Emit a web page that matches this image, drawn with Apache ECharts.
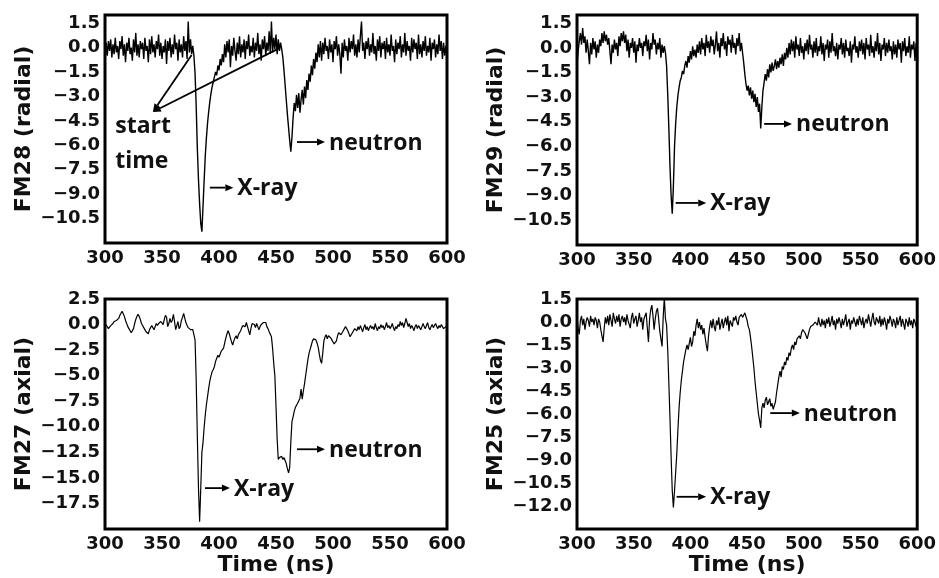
<!DOCTYPE html>
<html>
<head>
<meta charset="utf-8">
<script src="https://cdn.jsdelivr.net/npm/echarts@6/dist/echarts.min.js"></script>
<style>
  html, body { margin: 0; padding: 0; background: #fff; }
  #chart { width: 939px; height: 578px; }
</style>
</head>
<body>
<div id="chart"></div>
<script>
// one sample per ns, starting at 300 ns
const T0 = 300;

const fm28 = [
  -0.8, 0.3, -0.5, 0.4, -0.2, 0.5, -0.6, 0.2, -0.4, 0.6,
  -0.3, 0.1, -0.7, 0.4, -0.1, 0.7, -0.5, 0.2, -0.9, 0.3,
  -0.2, 0.6, -0.4, 0.0, -0.8, 0.5, -0.3, 0.9, -0.5, 0.2,
  -0.6, 0.4, -0.1, 0.3, -0.7, 0.6, -0.2, 0.1, -0.9, 0.5,
  -0.4, 0.7, -0.3, 0.2, -0.6, 0.4, -0.1, 0.8, -0.5, 0.3,
  -0.7, 0.1, -0.3, 0.5, -1.0, 0.4, -0.2, 0.6, -0.6, 0.2,
  -0.4, 0.8, -0.1, 0.3, -0.8, 0.5, -0.3, 0.2, -0.6, 0.7,
  -0.2, 0.4, -0.7, 1.6, -0.3, 0.5, -0.4, 0.1, -0.5, -1.6,
  -3.6, -6.2, -8.1, -9.6, -10.8, -11.3, -9.7, -8.1, -6.6, -5.5,
  -4.6, -3.9, -3.3, -2.8, -2.4, -2.1, -1.8, -1.5, -1.7, -1.1,
  -1.4, -0.7, -1.1, -0.4, -0.9, 0.2, -0.6, 0.4, -0.3, 0.5,
  -1.2, 0.1, -0.5, 0.6, -0.2, -0.8, 0.3, -0.4, 0.7, -0.6,
  0.2, -0.3, 0.5, -0.7, 0.4, -0.1, 0.8, -0.5, 0.1, -0.3,
  0.6, -0.6, 0.3, -0.2, 0.9, -0.4, 0.2, -0.8, 0.5, -0.1,
  0.7, -0.5, 0.3, -0.2, 1.0, -0.4, 1.6, -0.3, 0.6, -0.1,
  0.8, -0.4, 0.5, -0.2, 0.3, -0.1, -0.6, -1.4, -2.3, -3.2,
  -4.1, -4.9, -5.7, -6.4, -5.5, -4.3, -3.4, -3.9, -2.9, -3.7,
  -2.8, -4.0, -3.2, -2.6, -3.5, -2.4, -3.1, -2.0, -2.6, -1.6,
  -2.1, -1.1, -1.7, -0.7, -1.3, -0.3, -0.9, 0.2, -0.6, 0.4,
  -0.8, 0.3, -0.4, 0.6, -0.2, 0.1, -0.7, 0.5, -0.3, 0.2,
  -0.9, 0.4, -0.1, 0.7, -0.5, 0.2, -0.4, -1.6, 0.3, -0.6,
  0.5, -0.2, 0.1, -0.8, 0.6, -0.3, 0.4, -0.1, 0.8, -0.5,
  0.2, -0.6, 0.5, -0.3, 0.7, 1.6, -0.2, 0.3, -0.7, 0.4,
  -0.1, 0.6, -0.5, 0.2, -0.3, 0.9, -0.4, 0.1, -0.8, 0.5,
  -0.2, 0.7, -0.6, 0.3, -0.1, 0.4, -0.7, 0.6, -0.3, 0.2,
  -0.5, 0.8, -0.2, 0.1, -0.9, 0.5, -0.4, 0.3, -0.1, 0.7,
  -0.6, 0.2, -0.3, 0.9, -0.5, 0.4, -0.2, 0.1, -0.8, 0.6,
  -0.3, 0.5, -0.1, 0.3, -0.7, 0.8, -0.4, 0.2, -0.6, 0.4,
  -0.2, 0.7, -0.5, 0.1, -0.3, 0.6, -0.8, 0.3, -0.1, 0.5,
  -0.6, 0.2, -0.4, 0.8, -0.2, 0.4, -0.7, 0.3, -0.5, 0.1,
  -0.6
];

const fm29 = [
  -1.0, -0.2, 0.4, 0.9, 0.2, 1.2, 0.3, 0.7, -0.3, 0.5,
  -0.2, -1.0, 0.3, -0.4, 0.6, -0.1, 0.4, -0.6, 0.2, -0.3,
  0.5, 0.1, 0.9, 0.3, 1.0, 0.4, 0.8, 0.2, 0.6, -0.2,
  -1.0, 0.2, -0.3, 0.5, -0.1, 0.3, -0.5, 0.7, 0.1, 0.9,
  0.4, 1.0, 0.3, 0.8, -0.2, 0.5, -0.6, 0.3, 0.0, 0.6,
  -0.3, 0.4, -0.9, 0.2, -0.2, 0.6, 0.0, 0.3, -0.5, 0.4,
  0.1, 0.8, -0.2, 0.5, -0.7, 0.3, -0.1, 0.9, 0.2, 0.5,
  -0.4, 0.3, -0.1, 0.6, -0.6, 0.2, -0.3, 0.1, -0.3, -1.1,
  -2.8, -4.9, -7.2, -9.0, -10.1, -8.4, -6.0, -4.6, -3.6, -2.9,
  -2.4, -2.0, -1.8, -1.4, -1.6, -1.1, -0.8, -1.2, -0.5, -0.9,
  -0.2, -0.7, 0.1, -0.5, -0.1, -0.6, 0.2, -0.3, 0.4, -0.4,
  0.6, -0.1, 0.3, -0.5, 0.8, 0.0, 0.4, -0.3, 0.7, 0.1,
  0.5, -0.4, 0.2, 1.0, -0.2, 0.3, -0.6, 0.6, 0.1, 0.9,
  -0.1, 0.4, -0.5, 0.7, 0.2, 0.5, -0.3, 0.8, 0.0, 0.3,
  -0.4, 0.6, 0.1, 0.9, -0.2, 0.3, -0.3, -0.9, -1.6, -2.2,
  -2.6, -2.3, -2.9, -2.4, -3.1, -2.6, -3.3, -2.8, -3.6, -3.0,
  -3.9, -3.4, -4.9, -3.6, -2.6, -2.1, -1.6, -2.0, -1.3, -1.8,
  -1.0, -1.5, -0.9, -1.4, -1.1, -0.7, -1.3, -0.8, -1.2, -0.6,
  -1.0, -0.4, -1.1, -0.3, -0.7, 0.0, -0.6, 0.3, -0.4, 0.5,
  -0.2, 0.4, -0.6, 0.7, -0.1, 0.2, -0.5, 0.6, -0.3, 0.1,
  -0.7, 0.3, -0.2, 0.5, -0.4, 0.8, -0.1, 0.2, -0.6, 0.4,
  -0.3, 0.6, -0.5, 0.1, -0.2, 0.7, -0.4, 0.3, -0.8, 0.2,
  -0.1, 0.5, -0.6, 0.4, -0.3, 0.9, -0.2, 0.1, -0.5, 0.3,
  -0.7, 0.2, -0.1, 0.6, -0.4, 0.3, -0.6, 0.5, -0.2, 0.0,
  -0.5, 0.4, -0.9, 0.2, -0.1, 0.7, -0.3, 0.1, -0.6, 0.4,
  -0.2, 0.5, -0.4, 0.3, -0.7, 0.6, -0.1, 0.2, -0.5, 0.8,
  -0.3, 0.1, -0.6, 0.4, -0.2, 0.9, -0.4, 0.3, -0.8, 0.2,
  -0.1, 0.6, -0.5, 0.3, -0.3, 0.5, -0.2, 0.1, -0.7, 0.4,
  -0.4, 0.2, -0.6, 0.5, -0.1, 0.3, -0.9, 0.4, -0.2, 0.6,
  -0.5, 0.1, -0.3, 0.7, -0.6, 0.2, -0.1, 0.4, -0.8, 0.3,
  -0.4
];

const fm27 = [
  0.1, 0.2, -0.2, -0.4, -0.3, -0.1, -0.2, 0.1, 0.3, 0.2,
  0.4, 0.3, 0.6, 0.9, 1.1, 1.3, 1.4, 0.8, 0.4, 0.1,
  -0.2, -0.4, -0.6, -0.8, -0.9, -0.4, 0.1, 0.5, 0.8, 1.0,
  0.8, 0.5, 0.1, -0.1, -0.3, -0.5, -0.7, -0.8, -0.9, -0.5,
  -0.3, -0.1, -0.3, -0.5, -0.2, 0.1, -0.1, 0.1, 0.0, 0.3,
  0.2, 0.0, 0.5, 0.9, 0.7, -0.2, 0.1, 0.6, 0.2, 0.4,
  1.0, 0.3, -0.5, -0.1, 0.3, -0.4, -0.2, 0.4, 0.7, 1.1,
  0.6, 0.2, -0.1, -0.3, -0.4, -0.5, -0.4, -0.5, -0.6, -1.5,
  -5.5, -11.0, -16.0, -19.3, -16.0, -12.5, -11.5, -10.0, -8.8, -7.8,
  -7.0, -6.2, -5.5, -5.0, -4.6, -4.4, -4.1, -3.6, -3.3, -3.0,
  -3.2, -2.9, -2.6, -2.5, -2.3, -1.8, -1.3, -0.9, -0.6, -0.9,
  -1.3, -1.7, -2.0, -1.6, -1.3, -1.1, -1.4, -1.0, -0.8, -0.6,
  -0.3, -0.1, 0.0, -0.2, 0.2, 0.1, -0.6, -1.0, -0.4, 0.1,
  0.2, 0.0, -0.3, 0.1, -0.2, -0.5, -0.2, 0.0, 0.1, 0.2,
  0.1, 0.2, -0.2, -0.4, -0.7, -0.6, -1.2, -2.3, -3.8, -5.0,
  -8.0, -11.2, -13.2, -13.0, -13.1, -12.9, -13.2, -13.0, -13.1, -13.6,
  -14.1, -14.5, -14.0, -11.5, -9.5, -9.0, -8.5, -8.1, -7.9, -7.7,
  -7.6, -7.2, -6.3, -7.3, -6.5, -5.8, -5.0, -4.2, -3.4, -2.8,
  -2.4, -2.0, -1.6, -1.4, -1.3, -1.5, -1.8, -2.2, -2.9, -3.5,
  -3.8, -2.8, -1.6, -1.2, -1.0, -1.4, -1.1, -1.0, -1.3, -1.5,
  -1.7, -1.9, -2.0, -1.6, -1.1, -0.8, -0.7, -1.0, -0.9, -0.6,
  -0.4, -0.2, -0.3, -0.6, -0.9, -1.2, -1.1, -0.8, -0.6, -0.4,
  -0.3, -0.6, -0.2, -0.5, -0.1, -0.4, -0.7, -0.3, 0.0, -0.5,
  -0.2, -0.6, -0.3, -0.1, -0.4, -0.2, -0.5, 0.1, -0.3, -0.6,
  -0.2, -0.4, 0.0, -0.3, -0.1, -0.5, -0.2, 0.2, -0.3, -0.1,
  -0.4, -0.2, 0.1, -0.3, -0.6, -0.2, -0.4, 0.0, -0.2, 0.3,
  -0.1, 0.2, -0.3, 0.1, 0.6, 0.2, -0.2, 0.1, -0.4, -0.1,
  -0.3, -0.6, -0.2, 0.0, -0.4, -0.1, -0.3, -0.5, -0.2, 0.1,
  -0.2, -0.4, -0.1, 0.2, -0.3, -0.5, -0.2, 0.0, -0.3, -0.1,
  0.1, -0.2, -0.4, -0.1, -0.3, 0.0, -0.2, -0.4, -0.3, -0.2,
  -0.3
];

const fm25 = [
  0.3, -0.4, -0.8, 0.1, 0.4, -0.2, 0.2, -0.5, 0.0, 0.3,
  0.1, -0.3, 0.4, 0.0, 0.2, -0.2, 0.3, 0.1, -0.4, 0.2,
  0.0, -0.5, -0.9, -1.3, -0.4, 0.3, -0.1, 0.4, -0.2, 0.5,
  0.1, -0.3, 0.6, 0.2, -0.1, 0.4, 0.0, 0.5, -0.3, 0.2,
  0.4, 0.0, 0.3, -0.2, 0.5, 0.1, 0.2, -0.4, 0.3, 0.6,
  -0.1, 0.2, 0.4, -0.3, 0.1, 0.6, 0.0, 0.3, -0.5, 0.2,
  0.3, 0.6, -0.4, -1.3, 0.2, 0.8, 1.1, 0.4, -0.5, 0.2,
  0.7, 0.9, 0.2, -0.6, -1.1, -1.6, 0.3, 1.6, 0.2, -0.2,
  -1.8, -4.0, -6.3, -8.8, -11.0, -12.1, -11.0, -9.8, -8.6, -7.0,
  -5.6, -4.6, -3.8, -3.2, -2.6, -2.2, -1.8, -1.5, -1.8, -1.4,
  -1.0, -1.6, -1.3, -0.6, -0.9, -0.2, 0.2, -0.4, 0.0, -0.5,
  -0.2, -0.8, -0.4, -1.0, -1.5, -1.9, -0.9, -0.3, 0.1, -0.4,
  0.2, -0.3, -0.6, 0.1, -0.2, 0.3, -0.5, -0.1, 0.2, -0.4,
  0.0, 0.3, -0.2, 0.4, -0.6, 0.1, 0.2, -0.3, 0.3, 0.1,
  0.4, 0.0, -0.2, 0.3, 0.2, 0.5, 0.3, 0.2, 0.6, 0.7,
  0.1, -0.3, -0.5, -1.0, -1.6, -2.3, -3.0, -3.9, -4.6, -5.3,
  -6.0, -6.4, -6.9, -5.6, -5.3, -5.6, -5.1, -4.9, -5.4, -5.2,
  -5.0, -5.5, -5.3, -5.7, -5.8, -5.2, -4.6, -4.1, -3.6, -3.2,
  -3.6, -2.9, -3.1, -2.6, -2.8, -2.3, -2.5, -2.0, -2.2, -1.7,
  -1.5, -1.8, -1.3, -1.5, -1.1, -1.2, -0.9, -1.1, -0.7, -0.5,
  -0.4, -0.7, -0.9, -1.1, -0.8, -0.5, -0.3, -0.4, -0.2, -0.1,
  0.0, 0.1, -0.2, 0.3, -0.1, -0.3, 0.2, -0.2, 0.1, -0.4,
  0.2, -0.1, 0.3, -0.3, 0.0, 0.4, -0.2, 0.1, -0.5, 0.2,
  -0.1, 0.3, 0.0, -0.4, 0.2, -0.2, 0.1, 0.5, -0.3, 0.0,
  0.2, -0.5, 0.1, -0.1, 0.3, 0.0, -0.3, 0.2, -0.2, 0.4,
  0.1, -0.2, 0.3, -0.4, 0.0, 0.2, -0.1, 0.5, 0.1, -0.3,
  0.2, 0.6, 0.0, -0.2, 0.3, 0.1, -0.1, 0.4, -0.3, 0.2,
  -0.2, 0.3, 0.0, -0.5, 0.2, -0.1, 0.4, 0.1, -0.3, 0.2,
  0.0, -0.4, 0.3, -0.2, 0.1, 0.4, -0.3, 0.2, -0.1, -0.5,
  0.2, 0.0, -0.3, 0.3, -0.2, 0.1, -0.4, 0.2, 0.0, -0.3,
  -0.1
];

const xTicks = [300, 350, 400, 450, 500, 550, 600];
const yTicksRadial = [1.5, 0, -1.5, -3, -4.5, -6, -7.5, -9, -10.5];
const yTicksFM27 = [2.5, 0, -2.5, -5, -7.5, -10, -12.5, -15, -17.5];
const yTicksFM25 = [1.5, 0, -1.5, -3, -4.5, -6, -7.5, -9, -10.5, -12];

// annotations in data coordinates: [panel, from, to, label]
const arrows = [
  [0, [392, -8.6], [412.6, -8.6], 'X-ray'],
  [0, [468.4, -5.8], [493, -5.8], 'neutron'],
  [1, [387, -9.44], [414, -9.44], 'X-ray'],
  [1, [465, -4.63], [489.6, -4.63], 'neutron'],
  [2, [387.7, -16.0], [409.6, -16.0], 'X-ray'],
  [2, [468.4, -12.2], [493, -12.2], 'neutron'],
  [3, [387.8, -11.4], [413.9, -11.4], 'X-ray'],
  [3, [470.4, -5.94], [496.5, -5.94], 'neutron']
];
const startArrows = [
  [[376, -0.45], [342, -3.95]],
  [[453.5, -0.02], [342, -3.95]]
];
const startLabel = [309, -5.94];

const panels = [
  { name: 'FM28 (radial)', data: fm28, min: -12, max: 2, step: 1.5, ticks: yTicksRadial,
    grid: { left: 105, top: 15, width: 342, height: 228 }, xName: '' },
  { name: 'FM29 (radial)', data: fm29, min: -12, max: 2, step: 1.5, ticks: yTicksRadial,
    grid: { left: 577, top: 15, width: 345, height: 230 }, xName: '' },
  { name: 'FM27 (axial)', data: fm27, min: -20, max: 2.5, step: 2.5, ticks: yTicksFM27,
    grid: { left: 105, top: 299, width: 342, height: 230 }, xName: 'Time (ns)' },
  { name: 'FM25 (axial)', data: fm25, min: -13.5, max: 1.5, step: 1.5, ticks: yTicksFM25,
    grid: { left: 577, top: 299, width: 345, height: 230 }, xName: 'Time (ns)' }
];

const tickFont = { fontFamily: 'DejaVu Sans', fontWeight: 'bold', fontSize: 18, color: '#111' };
const nameFont = { fontFamily: 'DejaVu Sans', fontWeight: 'bold', fontSize: 22, color: '#111' };
const fmt = (v) => v.toFixed(1).replace('-', '\u2212');
const hasTick = (list, v) => list.some(t => Math.abs(t - v) < 1e-6);

const chart = echarts.init(document.getElementById('chart'));

chart.setOption({
  animation: false,
  backgroundColor: '#fff',
  grid: panels.map(p => Object.assign({
    show: true, borderColor: '#000', borderWidth: 3, containLabel: false
  }, p.grid)),
  xAxis: panels.map((p, i) => ({
    type: 'value', gridIndex: i, min: 300, max: 600, interval: 50,
    name: p.xName, nameLocation: 'middle', nameGap: 23, nameTextStyle: nameFont,
    axisLine: { show: false }, axisTick: { show: false }, splitLine: { show: false },
    axisLabel: Object.assign({ margin: 6,
      formatter: v => hasTick(xTicks, v) ? String(v) : '' }, tickFont)
  })),
  yAxis: panels.map((p, i) => ({
    type: 'value', gridIndex: i, min: p.min, max: p.max, interval: p.step,
    name: p.name, nameLocation: 'middle', nameRotate: 90, nameGap: 70, nameTextStyle: nameFont,
    axisLine: { show: false }, axisTick: { show: false }, splitLine: { show: false },
    axisLabel: Object.assign({ margin: 5,
      formatter: v => hasTick(p.ticks, v) ? fmt(v) : '' }, tickFont)
  })),
  series: panels.map((p, i) => ({
    type: 'line', xAxisIndex: i, yAxisIndex: i, showSymbol: false, clip: true,
    lineStyle: { color: '#000', width: i < 2 ? 1.4 : 1.2 },
    data: p.data.map((v, k) => [T0 + k, v])
  }))
});

function arrowShapes(a, b, lw) {
  const dx = b[0] - a[0], dy = b[1] - a[1];
  const len = Math.hypot(dx, dy), ux = dx / len, uy = dy / len;
  const hl = 8, hw = 3.5;
  const base = [b[0] - ux * hl, b[1] - uy * hl];
  return [
    { type: 'line', shape: { x1: a[0], y1: a[1], x2: base[0], y2: base[1] },
      style: { stroke: '#000', lineWidth: lw } },
    { type: 'polygon', shape: { points: [b,
        [base[0] - uy * hw, base[1] + ux * hw],
        [base[0] + uy * hw, base[1] - ux * hw]] },
      style: { fill: '#000' } }
  ];
}

const annFont = 'bold 23px "Open Sans"';
const g = [];
arrows.forEach(([pi, from, to, label]) => {
  const a = chart.convertToPixel({ gridIndex: pi }, from);
  const b = chart.convertToPixel({ gridIndex: pi }, to);
  g.push(...arrowShapes(a, b, 1.8));
  g.push({ type: 'text', x: b[0] + 4, y: b[1] + 1,
    style: { text: label, font: annFont, fill: '#111',
      textAlign: 'left', textVerticalAlign: 'middle', align: 'left', verticalAlign: 'middle' } });
});
startArrows.forEach(([from, to]) => {
  const a = chart.convertToPixel({ gridIndex: 0 }, from);
  const b = chart.convertToPixel({ gridIndex: 0 }, to);
  g.push(...arrowShapes(a, b, 1.8));
});
const sp = chart.convertToPixel({ gridIndex: 0 }, startLabel);
g.push({ type: 'text', x: sp[0], y: sp[1],
  style: { text: 'start\ntime', font: annFont, lineHeight: 35, fill: '#111',
    textAlign: 'left', textVerticalAlign: 'middle', align: 'left', verticalAlign: 'middle' } });

chart.setOption({ graphic: g });
</script>
</body>
</html>
